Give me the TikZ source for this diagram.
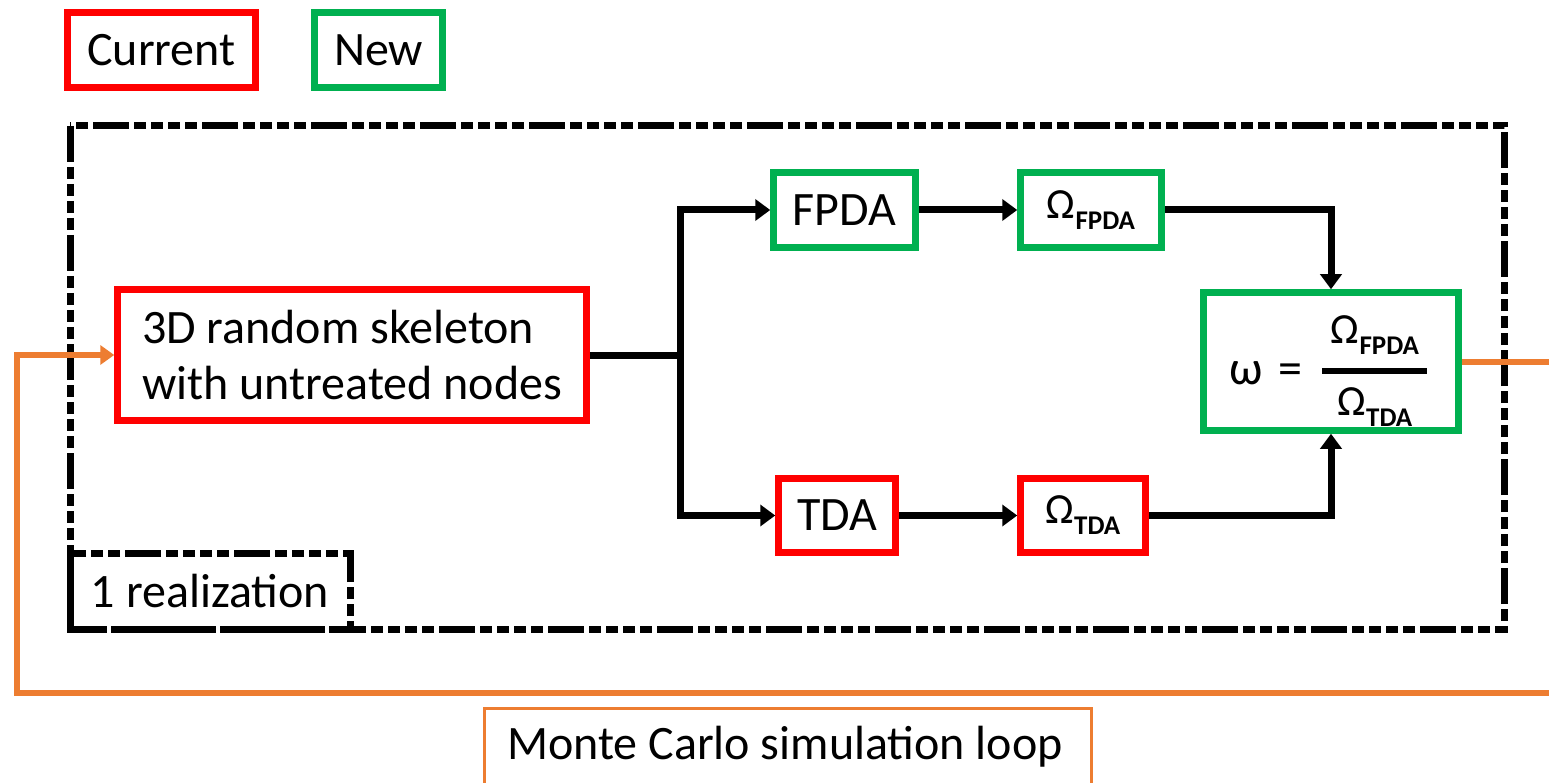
\documentclass[tikz,border=0pt]{standalone}
\usepackage{fontspec}
\setmainfont{Carlito}
\usetikzlibrary{arrows.meta}
\definecolor{cred}{RGB}{255,0,0}
\definecolor{cgreen}{RGB}{0,176,80}
\definecolor{corange}{RGB}{237,125,49}
\newcommand{\subx}[1]{\raisebox{-11pt}{\fontsize{27}{27}\selectfont\bfseries #1}}
\newcommand{\omg}[1]{{\fontsize{43}{50}\selectfont Ω}\subx{#1}}
\begin{document}
\begin{tikzpicture}[x=1pt,y=-1pt,
  txt/.style={font=\fontsize{48}{56}\selectfont},
  redbox/.style={draw=cred,line width=6.5pt,inner sep=0pt,txt},
  greenbox/.style={draw=cgreen,line width=6.5pt,inner sep=0pt,txt},
  dashframe/.style={draw=black,line width=7pt,
    dash pattern=on 36pt off 5pt on 12pt off 5pt on 12pt off 5pt on 12pt off 5pt on 12pt off 5pt},
  conn/.style={draw=black,line width=7pt},
  arr/.style={conn,-{Triangle[length=15pt,width=21pt]}},
  loopline/.style={draw=corange,line width=6pt},
  looparr/.style={loopline,-{Triangle[length=14pt,width=19pt]}}]
\useasboundingbox (0,0) rectangle (1549,783);
\fill[white] (0,0) rectangle (1549,783);

% legend
\node[redbox,minimum width=188pt,minimum height=75pt] (cur) at (161.5,50) {Current};
\node[greenbox,minimum width=128pt,minimum height=75pt] (new) at (378.5,50) {New};

% outer dashed frame
\draw[dashframe] (70,126) rectangle (1504,629);
\node[dashframe,minimum width=280pt,minimum height=76pt,txt,inner sep=0pt] (real) at (210,591) {1 realization};

% main boxes
\node[redbox,minimum width=469pt,minimum height=131pt,align=left] (sk) at (352,355)
  {3D random skeleton\\with untreated nodes};
\node[greenbox,minimum width=142pt,minimum height=75pt] (fpda) at (844.5,210) {FPDA};
\node[greenbox,minimum width=141pt,minimum height=75pt] (ofpda) at (1091,210) {\omg{FPDA}};
\node[redbox,minimum width=117pt,minimum height=74pt] (tda) at (837,515.5) {TDA};
\node[redbox,minimum width=125pt,minimum height=74pt] (otda) at (1083,515.5) {\omg{TDA}};
\node[greenbox,minimum width=255pt,minimum height=138pt] (om) at (1331,361.5) {};
\node[txt,anchor=base] (omsym) at (1266,384) {ω\hspace{16pt}=};
\node[txt,anchor=base] (num) at (1375,343) {\omg{FPDA}};
\node[txt,anchor=base] (den) at (1375,415) {\omg{TDA}};
\coordinate (barl) at (1322,371);
\coordinate (barr) at (1427,371);
\draw[line width=6pt] (barl) -- (barr);

% connectors
\coordinate (j) at (680,355);
\draw[conn] (sk.east) -- (j);
\draw[arr] (j) |- (fpda.west);
\draw[arr] (j) |- (tda.west);
\draw[arr] (fpda.east) -- (ofpda.west);
\draw[arr] (tda.east) -- (otda.west);
\draw[arr] (ofpda.east) -| (om.north);
\draw[arr] (otda.east) -| (om.south);

% Monte Carlo loop
\coordinate (rr) at (1600,693);
\coordinate (ll) at (17,693);
\draw[looparr] (om.east) -| (rr) -- (ll) |- (sk.west);
\node[draw=corange,line width=3pt,txt,minimum width=607pt,minimum height=81pt,inner sep=0pt] (mc) at (788,749) {};
\node[txt] (mctxt) at (785,747) {Monte Carlo simulation loop};
\end{tikzpicture}
\end{document}
